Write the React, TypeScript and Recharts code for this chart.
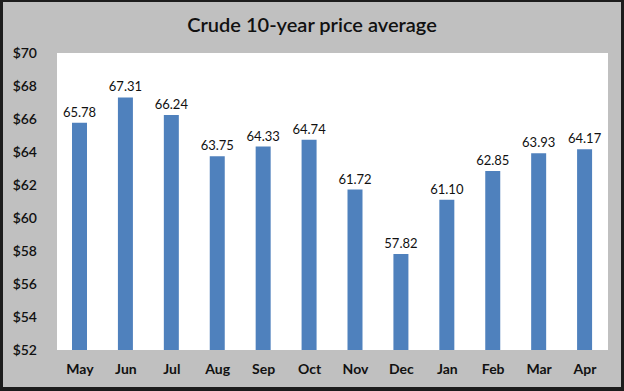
import React from "react";
import { BarChart, Bar, XAxis, YAxis, LabelList } from "recharts";

const months = ["May", "Jun", "Jul", "Aug", "Sep", "Oct", "Nov", "Dec", "Jan", "Feb", "Mar", "Apr"];
const prices = [65.78, 67.31, 66.24, 63.75, 64.33, 64.74, 61.72, 57.82, 61.1, 62.85, 63.93, 64.17];
const yTicks = [52, 54, 56, 58, 60, 62, 64, 66, 68, 70];

const data = months.map((m, i) => ({ month: m, price: prices[i] }));

const font = "Lato, 'Open Sans', sans-serif";

export default function App() {
  return (
    <div
      style={{
        position: "absolute",
        left: 0,
        top: 0,
        width: 624,
        height: 391,
        background: "#c0c0c0",
        fontFamily: font,
      }}
    >
      <div
        style={{
          position: "absolute",
          top: 12,
          left: 0,
          width: 624,
          textAlign: "center",
          fontSize: 20,
          fontWeight: 600,
          color: "#111",
        }}
      >
        Crude 10-year price average
      </div>
      <div style={{ position: "absolute", left: 0, top: 0 }}>
        <BarChart
          width={624}
          height={391}
          data={data}
          margin={{ top: 53, right: 16, bottom: 11, left: 0 }}
        >
          <rect x={57} y={53} width={551} height={297} fill="#fff" />
          <XAxis
            dataKey="month"
            height={30}
            axisLine={false}
            tickLine={false}
            tickSize={0}
            tickMargin={14}
            interval={0}
            tick={{ fontSize: 14, fontWeight: 700, fill: "#111", fontFamily: font }}
          />
          <YAxis
            domain={[52, 70]}
            ticks={yTicks}
            width={57}
            axisLine={false}
            tickLine={false}
            tickSize={0}
            tickMargin={20}
            tickFormatter={(v: number) => `$${v}`}
            tick={{ fontSize: 14, fontWeight: 600, fill: "#111", fontFamily: font }}
          />
          <Bar dataKey="price" fill="#4f81bd" barSize={15} isAnimationActive={false}>
            <LabelList
              dataKey="price"
              position="top"
              offset={6}
              formatter={(v: any) => Number(v).toFixed(2)}
              style={{ fontSize: 13, fill: "#111", fontFamily: font }}
            />
          </Bar>
        </BarChart>
      </div>
      <div
        style={{
          position: "absolute",
          left: 0,
          top: 0,
          width: 624,
          height: 391,
          boxSizing: "border-box",
          borderStyle: "solid",
          borderColor: "#1c1c1c",
          borderWidth: "2px 3px 4px 3px",
          pointerEvents: "none",
        }}
      />
    </div>
  );
}
